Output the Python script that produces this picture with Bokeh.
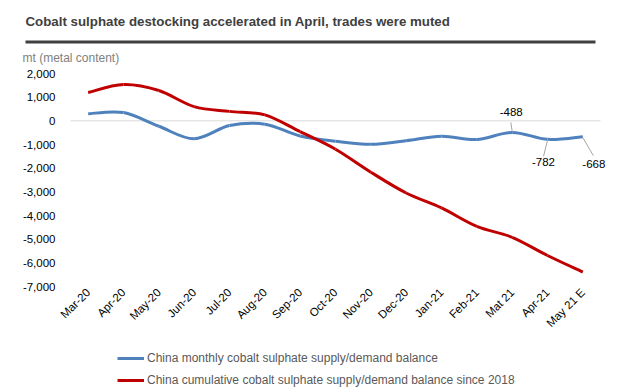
import math
from bokeh.plotting import figure
from bokeh.layouts import column
from bokeh.models import (FixedTicker, NumeralTickFormatter, Legend, LegendItem, Range1d,
                          ColumnDataSource)
from bokeh.core.properties import value
from bokeh.embed import file_html
from bokeh.resources import INLINE

# ---------------- data ----------------
months = ["Mar-20", "Apr-20", "May-20", "Jun-20", "Jul-20", "Aug-20", "Sep-20", "Oct-20",
          "Nov-20", "Dec-20", "Jan-21", "Feb-21", "Mat 21", "Apr-21", "May 21 E"]
monthly = [300, 350, -230, -760, -200, -140, -640, -860, -990, -840, -650, -790, -488, -782, -668]
cumulative = [1200, 1530, 1280, 600, 400, 250, -460, -1200, -2170, -3050, -3680, -4460, -4920, -5690, -6390]
y_ticks = [-7000, -6000, -5000, -4000, -3000, -2000, -1000, 0, 1000, 2000]
labelled_idx = [12, 13, 14]

title_text = "Cobalt sulphate destocking accelerated in April, trades were muted"
y_title = "mt (metal content)"
series_names = ["China monthly cobalt sulphate supply/demand balance",
                "China cumulative cobalt sulphate supply/demand balance since 2018"]
colors = ["#4F81BD", "#C00000"]

FONT = "Liberation Sans"
W = 626
H_HEAD, H_CHART, H_LEG = 66, 279, 42


def no_align(f):
    if "frame_align" in f.properties():
        f.frame_align = False
    return f


def blank(h):
    f = figure(width=W, height=h, x_range=Range1d(0, W), y_range=Range1d(h, 0),
               output_backend="svg", toolbar_location=None, x_axis_location=None,
               y_axis_location=None, min_border=0)
    f.outline_line_color = None
    f.xgrid.visible = False
    f.ygrid.visible = False
    f.background_fill_color = "white"
    f.border_fill_color = "white"
    return no_align(f)


# ---------------- header (title, rule, unit) ----------------
head = blank(H_HEAD)
head.text(x=[25], y=[21], text=[title_text], text_font=value(FONT), text_font_size="13.3px",
          text_font_style="bold", text_color="#404040", text_align="left",
          text_baseline="middle")
head.segment(x0=[25], y0=[41.5], x1=[595], y1=[41.5], line_color="#404040", line_width=3)
head.text(x=[22], y=[57], text=[y_title], text_font=value(FONT), text_font_size="12px",
          text_color="#7F7F7F", text_align="left", text_baseline="middle")

# ---------------- chart ----------------
BL, BR, BT, BB = 70, 10, 7, 59
FW = W - BL - BR
FH = H_CHART - BT - BB
n = len(months)
unit_px = 530 / n                      # category width in px
xr = Range1d(-0.5, n - 0.5 + (FW - 530) / unit_px)
yr = Range1d(y_ticks[0], y_ticks[-1])

p = figure(width=W, height=H_CHART, x_range=xr, y_range=yr, output_backend="svg",
           toolbar_location=None, min_border_left=BL, min_border_right=BR,
           min_border_top=BT, min_border_bottom=BB)
no_align(p)
p.outline_line_color = None
p.background_fill_color = "white"
p.border_fill_color = "white"
p.xgrid.visible = False
p.ygrid.visible = False

p.yaxis.ticker = FixedTicker(ticks=y_ticks)
p.yaxis.formatter = NumeralTickFormatter(format="0,0")
p.yaxis.axis_line_color = None
p.yaxis.major_tick_line_color = None
p.yaxis.minor_tick_line_color = None
p.yaxis.major_label_standoff = 9
p.yaxis.major_label_text_font = FONT
p.yaxis.major_label_text_font_size = "11.5px"
p.yaxis.major_label_text_color = "#000000"

p.xaxis.ticker = FixedTicker(ticks=list(range(n)))
p.xaxis.major_label_overrides = {i: m for i, m in enumerate(months)}
p.xaxis.major_label_orientation = math.pi / 4
p.xaxis.axis_line_color = None
p.xaxis.major_tick_line_color = None
p.xaxis.minor_tick_line_color = None
p.xaxis.major_label_standoff = -2
p.xaxis.major_label_text_font = FONT
p.xaxis.major_label_text_font_size = "11.5px"
p.xaxis.major_label_text_color = "#000000"

# zero line across the category area
p.line(x=[-0.5, n - 0.5], y=[0, 0], line_color="#D9D9D9", line_width=1)


def bezier_src(vals):
    m = len(vals)
    xs = list(range(m))
    d = dict(x0=[], y0=[], x1=[], y1=[], cx0=[], cy0=[], cx1=[], cy1=[])
    for i in range(m - 1):
        a = max(i - 1, 0)
        b = min(i + 2, m - 1)
        d["x0"].append(xs[i]); d["y0"].append(vals[i])
        d["x1"].append(xs[i + 1]); d["y1"].append(vals[i + 1])
        d["cx0"].append(xs[i] + (xs[i + 1] - xs[a]) / 6)
        d["cy0"].append(vals[i] + (vals[i + 1] - vals[a]) / 6)
        d["cx1"].append(xs[i + 1] - (xs[b] - xs[i]) / 6)
        d["cy1"].append(vals[i + 1] - (vals[b] - vals[i]) / 6)
    return ColumnDataSource(d)


for vals, col in zip([monthly, cumulative], colors):
    p.bezier(x0="x0", y0="y0", x1="x1", y1="y1", cx0="cx0", cy0="cy0", cx1="cx1", cy1="cy1",
             source=bezier_src(vals), line_color=col, line_width=3)

# data labels with leader lines
px_y = FH / (yr.end - yr.start)
text_off = [(-1, -20), (-4, 23), (11, 27)]
lead_off = [((-1.3, -10), (0, -1)), ((0, 1), (-4, 17)), ((0, 1), (10.5, 19))]
lx = list(labelled_idx)
ly = [monthly[i] for i in labelled_idx]
p.segment(x0=[x + a[0] / unit_px for x, (a, b) in zip(lx, lead_off)],
          y0=[y - a[1] / px_y for y, (a, b) in zip(ly, lead_off)],
          x1=[x + b[0] / unit_px for x, (a, b) in zip(lx, lead_off)],
          y1=[y - b[1] / px_y for y, (a, b) in zip(ly, lead_off)],
          line_color="#A6A6A6", line_width=1)
p.text(x=lx, y=ly, text=[f"{v:,.0f}" for v in ly],
       x_offset=[o[0] for o in text_off], y_offset=[o[1] for o in text_off],
       text_align="center", text_baseline="middle", text_font=value(FONT),
       text_font_size="11.5px", text_color="#000000")

# ---------------- legend ----------------
leg = blank(H_LEG)
items = []
for col, name in zip(colors, series_names):
    r = leg.line(x=[float("nan")], y=[float("nan")], line_color=col, line_width=3)
    items.append(LegendItem(label=name, renderers=[r]))
legend = Legend(items=items, location=(117, 0), orientation="vertical",
                glyph_width=27, glyph_height=14, label_height=14, label_standoff=3,
                spacing=8, padding=0, margin=0, border_line_color=None,
                background_fill_alpha=0, label_text_font=FONT,
                label_text_font_size="12px", label_text_color="#595959")
leg.add_layout(legend, "center")

layout = column(head, p, leg, spacing=0)
open("out.html", "w").write(file_html(layout, INLINE))
